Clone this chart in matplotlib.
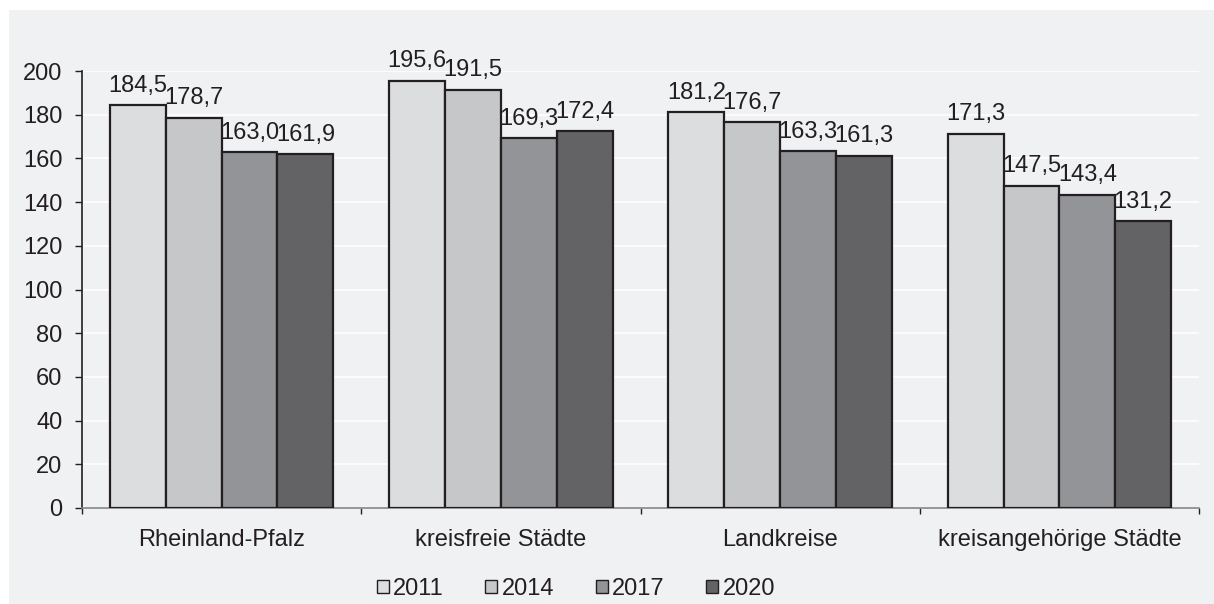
import matplotlib.pyplot as plt
import numpy as np
from matplotlib.patches import Rectangle

# ========== Daten ==========
categories = ["Rheinland-Pfalz", "kreisfreie Städte", "Landkreise", "kreisangehörige Städte"]
years = ["2011", "2014", "2017", "2020"]
v2011 = [184.5, 195.6, 181.2, 171.3]
v2014 = [178.7, 191.5, 176.7, 147.5]
v2017 = [163.0, 169.3, 163.3, 143.4]
v2020 = [161.9, 172.4, 161.3, 131.2]
series = [v2011, v2014, v2017, v2020]
colors = ["#DCDDDF", "#C6C7C9", "#939498", "#636365"]

bg = "#F0F1F3"
txt = "#231F20"
fs = 17

plt.rcParams["font.family"] = ["Liberation Sans", "DejaVu Sans"]

fig = plt.figure(figsize=(12.14, 6.04), dpi=100)
fig.patches.append(Rectangle((9 / 1214, 0), 1, (604 - 10) / 604,
                             transform=fig.transFigure, facecolor=bg,
                             edgecolor="none", zorder=-10))
ax = fig.add_axes([82 / 1214, 96 / 604, 1117 / 1214, 437 / 604])
ax.set_zorder(1)
ax.set_facecolor(bg)

x = np.arange(len(categories))
w = 0.2
for i, (vals, c, lab) in enumerate(zip(series, colors, years)):
    pos = x + (i - 1.5) * w
    bars = ax.bar(pos, vals, w, color=c, edgecolor=txt, linewidth=1.6,
                  label=lab, zorder=3)
    for b, v in zip(bars, vals):
        ax.annotate(f"{v:.1f}".replace(".", ","),
                    (b.get_x() + b.get_width() / 2, v),
                    xytext=(0, 6), textcoords="offset points",
                    ha="center", va="bottom", fontsize=fs, color=txt, zorder=4)

ax.set_ylim(0, 200)
ax.set_xlim(-0.5, 3.5)
ax.set_yticks(np.arange(0, 201, 20))
ax.yaxis.grid(True, color="white", linewidth=1.2, zorder=1)
ax.set_axisbelow(True)

ax.set_xticks(x)
ax.set_xticklabels(categories)
ax.set_xticks(np.arange(-0.5, 4, 1), minor=True)
ax.tick_params(axis="x", which="major", length=0, pad=15, labelsize=fs, colors=txt)
ax.tick_params(axis="x", which="minor", length=4.5, width=1, color=txt, direction="out")
ax.tick_params(axis="y", length=5, width=1, color=txt, labelsize=fs,
               labelcolor=txt, pad=9)

for s in ["top", "right"]:
    ax.spines[s].set_visible(False)
ax.spines["left"].set_color(txt)
ax.spines["left"].set_linewidth(1.2)
ax.spines["bottom"].set_color("#868686")
ax.spines["bottom"].set_linewidth(1.2)

leg = fig.legend(loc="center", bbox_to_anchor=(576 / 1214, 15 / 604), ncol=4,
                 frameon=False, fontsize=fs, handlelength=0.5, handleheight=0.5,
                 handletextpad=0.2, columnspacing=1.75)
for t in leg.get_texts():
    t.set_color(txt)
for h in leg.legend_handles:
    h.set_linewidth(1.0)

fig.savefig("out.png", dpi=100, facecolor="white")
